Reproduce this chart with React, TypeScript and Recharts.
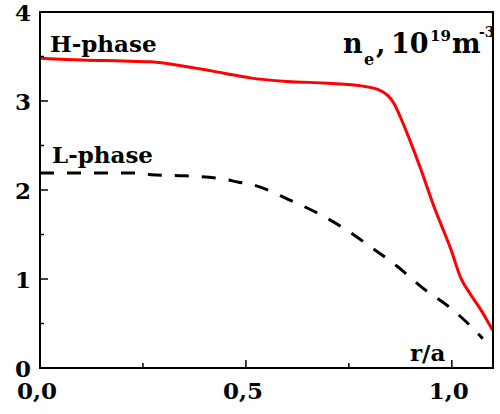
import React from "react";
import { Line, LineChart, ReferenceArea, XAxis, YAxis } from "recharts";

// H-phase density profile (r/a, n_e)
const hPhaseR = [0, 0.05, 0.1, 0.2, 0.27, 0.35, 0.45, 0.51, 0.6, 0.7, 0.78, 0.82, 0.845, 0.86, 0.875, 0.893, 0.925, 0.957, 0.975, 0.998, 1.022, 1.045, 1.071, 1.09, 1.1];
const hPhaseNe = [3.48, 3.47, 3.46, 3.45, 3.44, 3.39, 3.31, 3.26, 3.22, 3.2, 3.17, 3.13, 3.06, 2.97, 2.82, 2.62, 2.23, 1.81, 1.6, 1.33, 1.01, 0.83, 0.65, 0.5, 0.42];

// L-phase density profile
const lPhaseR = [0, 0.1, 0.25, 0.27, 0.35, 0.45, 0.48, 0.515, 0.605, 0.674, 0.738, 0.803, 0.868, 0.929, 0.998, 1.067, 1.075];
const lPhaseNe = [2.19, 2.19, 2.19, 2.17, 2.16, 2.12, 2.09, 2.06, 1.89, 1.74, 1.57, 1.36, 1.14, 0.9, 0.67, 0.37, 0.33];

const xTicks = [0, 0.25, 0.5, 0.75, 1.0];
const yTicks = [0, 0.5, 1, 1.5, 2, 2.5, 3, 3.5, 4];

const hData = hPhaseR.map((r, i) => ({ r, v: hPhaseNe[i] }));
const lData = lPhaseR.map((r, i) => ({ r, v: lPhaseNe[i] }));

const W = 500;
const H = 414;
const MARGIN = { top: 12, right: 7, bottom: 11, left: 0 };
const Y_AXIS_W = 40;
const X_AXIS_H = 35;

const FONT = "DejaVu Serif, serif";
const frameLine = { stroke: "#000", strokeWidth: 2 };

function Txt({
  x,
  y,
  size = 23,
  anchor = "start",
  children,
}: {
  x: number;
  y: number;
  size?: number;
  anchor?: "start" | "middle" | "end";
  children: React.ReactNode;
}) {
  return (
    <text
      x={x}
      y={y}
      textAnchor={anchor}
      fontFamily={FONT}
      fontWeight="bold"
      fontSize={size}
      fill="#000"
    >
      {children}
    </text>
  );
}

const isMajor = (v: number, step: number) =>
  Math.abs(v / step - Math.round(v / step)) < 1e-6;

function XTick(props: any) {
  const { x, y, payload } = props;
  const v = payload.value as number;
  const major = isMajor(v, 0.5);
  return (
    <g>
      <line x1={x} x2={x} y1={y} y2={y - (major ? 8 : 5)} stroke="#000" strokeWidth={1.5} />
      {major && (
        <Txt x={x - 3} y={y + 31} anchor="middle">
          {v.toFixed(1).replace(".", ",")}
        </Txt>
      )}
    </g>
  );
}

function YTick(props: any) {
  const { x, y, payload } = props;
  const v = payload.value as number;
  const major = isMajor(v, 1);
  return (
    <g>
      <line x1={x} x2={x + (major ? 8 : 4)} y1={y} y2={y} stroke="#000" strokeWidth={1.5} />
      {major && (
        <Txt x={x - 9} y={y + 9} anchor="end">
          {String(v)}
        </Txt>
      )}
    </g>
  );
}

// plot box, derived from the chart margins
const plotLeft = MARGIN.left + Y_AXIS_W;
const plotTop = MARGIN.top;
const plotRight = W - MARGIN.right;
const plotBottom = H - MARGIN.bottom - X_AXIS_H;

export default function App() {
  return (
    <div style={{ position: "absolute", left: 0, top: 0, width: W, height: H, background: "#fff" }}>
      <LineChart width={W} height={H} margin={MARGIN}>
        <XAxis
          type="number"
          dataKey="r"
          domain={[0, 1.1]}
          ticks={xTicks}
          interval={0}
          allowDataOverflow
          height={X_AXIS_H}
          tickSize={0}
          tickMargin={0}
          tickLine={false}
          tick={<XTick />}
          axisLine={frameLine}
        />
        <YAxis
          type="number"
          domain={[0, 4]}
          ticks={yTicks}
          interval={0}
          allowDataOverflow
          width={Y_AXIS_W}
          tickSize={0}
          tickMargin={0}
          tickLine={false}
          tick={<YTick />}
          axisLine={frameLine}
        />
        {/* box around the plot */}
        <ReferenceArea
          x1={0}
          x2={1.1}
          y1={0}
          y2={4}
          ifOverflow="visible"
          fill="none"
          fillOpacity={0}
          stroke="#000"
          strokeWidth={2}
          strokeOpacity={1}
        />
        <Line
          data={lData}
          dataKey="v"
          type="monotone"
          stroke="#000"
          strokeWidth={3}
          strokeDasharray="14 13"
          dot={false}
          isAnimationActive={false}
        />
        <Line
          data={hData}
          dataKey="v"
          type="monotone"
          stroke="#ff0000"
          strokeWidth={3}
          dot={false}
          isAnimationActive={false}
        />
        <Txt x={50} y={52}>H-phase</Txt>
        <Txt x={52} y={163}>L-phase</Txt>
        <Txt x={410} y={361}>r/a</Txt>
        <Txt x={343} y={53} size={27}>n</Txt>
        <Txt x={364} y={65} size={16}>e</Txt>
        <Txt x={376} y={53} size={27}>,</Txt>
        <Txt x={391} y={53} size={27}>10</Txt>
        <Txt x={430} y={41} size={15}>19</Txt>
        <Txt x={452} y={53} size={27}>m</Txt>
        <Txt x={479} y={37} size={14}>-3</Txt>
      </LineChart>
      <div
        style={{
          position: "absolute",
          left: plotLeft,
          top: plotTop - 1,
          width: plotRight - plotLeft + 1,
          height: plotBottom - plotTop + 1,
          boxSizing: "border-box",
          borderTop: "2px solid #000",
          borderRight: "2px solid #000",
          pointerEvents: "none",
        }}
      />
    </div>
  );
}
